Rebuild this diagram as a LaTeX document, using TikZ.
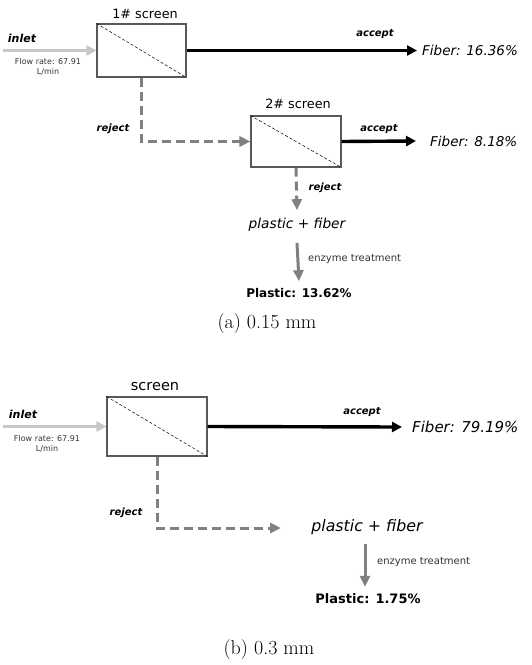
\documentclass[tikz,border=0pt]{standalone}
\usepackage{fontspec}
\setsansfont{DejaVu Sans}
\usetikzlibrary{arrows.meta}
\begin{document}
\begin{tikzpicture}[x=1pt,y=-1pt,
  every node/.style={font=\sffamily, inner sep=0pt},
  fs/.style={font=\sffamily\fontsize{#1}{#1}\selectfont},
  scr/.style={draw=black!65, line width=1.1pt, fill=white, inner sep=0pt},
  diag/.style={line width=0.5pt, dash pattern=on 3pt off 2pt},
  inarr/.style={draw=black!22, line width=3pt, -{Triangle[length=10pt,width=10pt]}},
  accarr/.style={draw=black, line width=3.4pt, -{Triangle[length=10pt,width=10pt]}},
  rejarr/.style={draw=black!50, line width=3pt, dash pattern=on 9pt off 5pt, -{Triangle[length=11pt,width=10pt]}},
  enzarr/.style={draw=black!50, line width=3pt, -{Triangle[length=11pt,width=10pt]}},
  lbl/.style={font=\sffamily\bfseries\itshape\fontsize{#1}{#1}\selectfont},
  lbl/.default=10,
  fib/.style={font=\sffamily\itshape\fontsize{#1}{#1}\selectfont, anchor=west},
  small/.style={font=\sffamily\fontsize{#1}{#1}\selectfont, text=black!80},
  bld/.style={font=\sffamily\bfseries\fontsize{#1}{#1}\selectfont},
  capt/.style={font=\rmfamily\fontsize{20}{20}\selectfont}
]
\useasboundingbox (0,0) rectangle (531,665);

% ---------- (a) ----------
\node[scr, minimum width=89pt, minimum height=53pt] (s1) at (141.5,50.5) {};
\draw[diag] (s1.north west) -- (s1.south east);
\node[fs=12.8] (t1) at (145,14) {1\# screen};
\coordinate (in1) at (3,50.5);
\draw[inarr] (in1) -- (s1.west);
\node[lbl=11] (il1) at (22,38) {inlet};
\node[small=8, align=center] (fr1) at (48,67) {Flow rate: 67.91\\[2pt]L/min};
\node[fib=13.5] (f1) at (422,50.5) {Fiber: 16.36\%};
\draw[accarr] (s1.east) -- ([xshift=-5pt]f1.west);
\node[lbl] (a1) at (375,34) {accept};

\node[scr, minimum width=90pt, minimum height=51pt] (s2) at (296,141.5) {};
\draw[diag] (s2.north west) -- (s2.south east);
\node[fs=12.8] (t2) at (298,104) {2\# screen};
\draw[rejarr] (s1.south) |- (s2.west);
\node[lbl] (r1) at (113,129) {reject};
\node[fib=13.5] (f2) at (430,141) {Fiber: 8.18\%};
\draw[accarr] (s2.east) -- ([xshift=-14pt]f2.west);
\node[lbl] (a2) at (379,129) {accept};

\node[fib=13.7, anchor=center] (pf1) at (297,225) {plastic + fiber};
\draw[rejarr] (s2.south) -- ([yshift=8pt]pf1.north);
\node[lbl] (r2) at (325,188) {reject};
\node[bld=12] (p1) at (299,293) {Plastic: 13.62\%};
\draw[enzarr] ([yshift=-11pt]pf1.south) -- ([yshift=7pt]p1.north);
\node[small=10, anchor=west] (e1) at (308,259) {enzyme treatment};
\node[capt] (c1) at (267,324) {(a) 0.15 mm};

% ---------- (b) ----------
\node[scr, minimum width=100pt, minimum height=59pt] (s3) at (157,426.5) {};
\draw[diag] (s3.north west) -- (s3.south east);
\node[fs=14.5] (t3) at (155,387) {screen};
\coordinate (in3) at (3,426.5);
\draw[inarr] (in3) -- (s3.west);
\node[lbl=11] (il3) at (23,414) {inlet};
\node[small=8, align=center] (fr3) at (47,444) {Flow rate: 67.91\\[2pt]L/min};
\node[fib=15] (f3) at (412,427) {Fiber: 79.19\%};
\draw[accarr] (s3.east) -- ([xshift=-10pt]f3.west);
\node[lbl] (a3) at (362,412) {accept};

\coordinate (rj3) at (281,528);
\draw[rejarr] (s3.south) |- (rj3);
\node[lbl] (r3) at (126,513) {reject};
\node[fib=15.8, anchor=center] (pf3) at (367,527) {plastic + fiber};
\node[bld=13] (p3) at (368,599) {Plastic: 1.75\%};
\draw[enzarr] ([xshift=-2pt,yshift=-9pt]pf3.south) -- ([xshift=-3pt,yshift=7pt]p3.north);
\node[small=10, anchor=west] (e3) at (377,562) {enzyme treatment};
\node[capt] (c3) at (269,650) {(b) 0.3 mm};
\end{tikzpicture}
\end{document}
